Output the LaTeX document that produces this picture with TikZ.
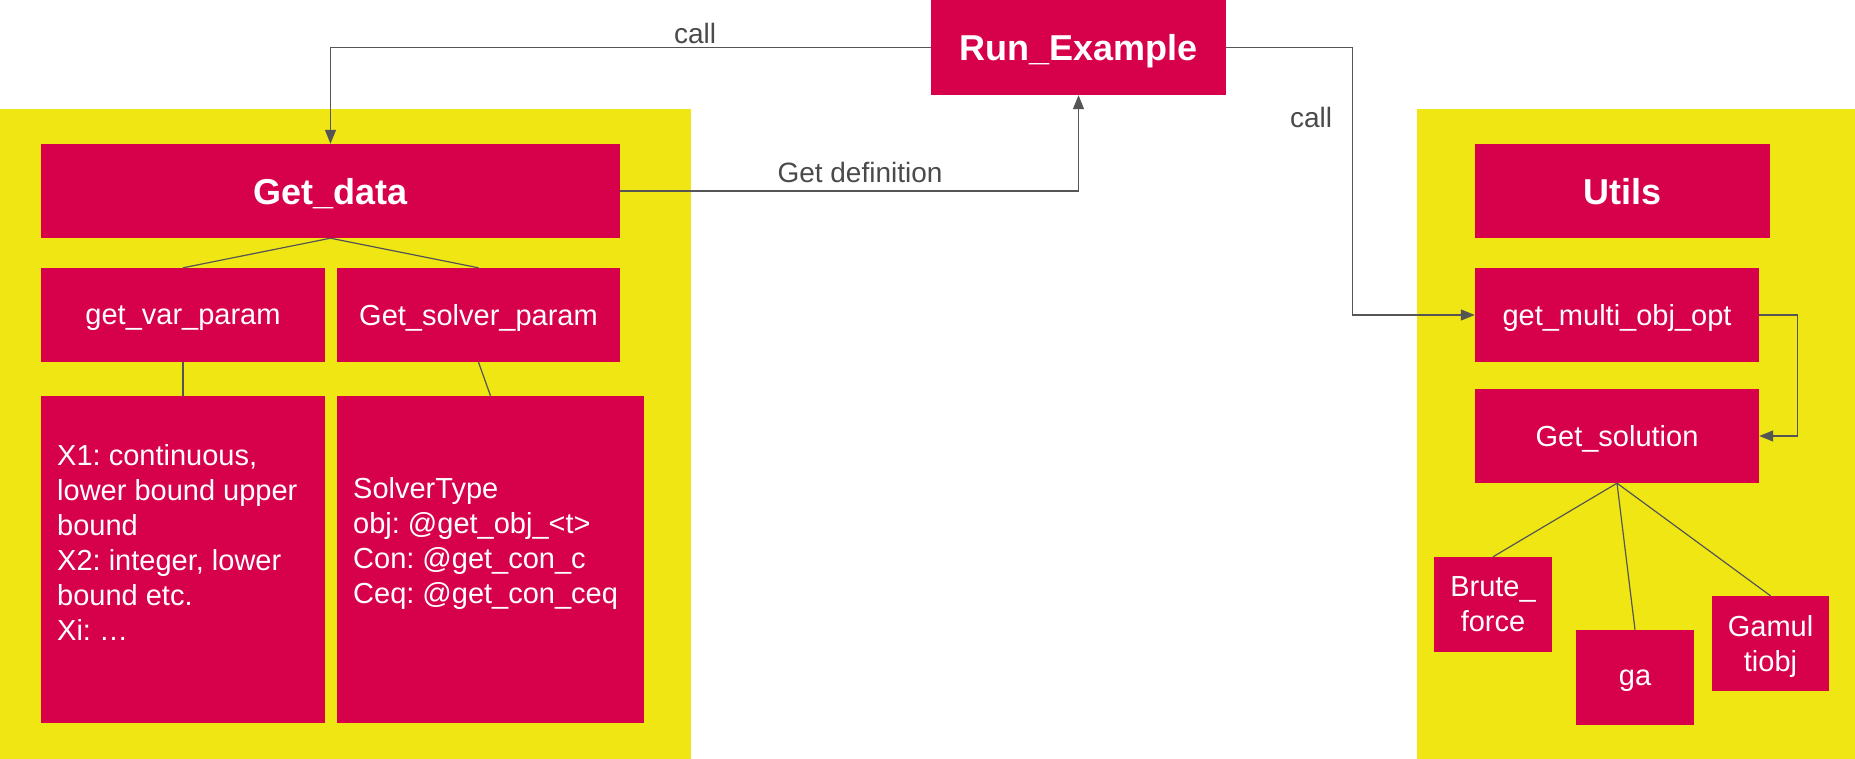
\documentclass[tikz,border=0pt]{standalone}
\usepackage{fontspec}
\setmainfont{Liberation Sans}
\usetikzlibrary{arrows.meta}
\definecolor{crim}{HTML}{D6004B}
\definecolor{yel}{HTML}{F0E614}
\definecolor{lin}{HTML}{555555}
\definecolor{lab}{HTML}{4A4A4A}
\frenchspacing
\begin{document}
\begin{tikzpicture}[x=1pt,y=-1pt,
  base/.style={fill=crim,draw=none,text=white,inner sep=0pt,
    font=\fontsize{29pt}{35pt}\selectfont},
  box/.style={base,align=center,text depth=0pt},
  textblock/.style={base,fill=none,anchor=west,align=left},
  titlebox/.style={box,font=\fontsize{36pt}{42pt}\selectfont\bfseries},
  conn/.style={draw=lin,line width=1.2pt},
  arr/.style={conn,-{Triangle[length=14pt,width=11pt]}},
  lbl/.style={text=lab,inner sep=0pt,font=\fontsize{28pt}{34pt}\selectfont}]
\useasboundingbox (0,0) rectangle (1855,759);
% panels
\fill[yel] (0,109) rectangle (691,759);
\fill[yel] (1417,109) rectangle (1855,759);
% nodes
\node[titlebox,minimum width=295pt,minimum height=95pt] (run) at (1078.5,47.5) {Run\_Example};
\node[titlebox,minimum width=579pt,minimum height=94pt] (getdata) at (330.5,191) {Get\_data};
\node[box,minimum width=284pt,minimum height=94pt] (getvar) at (183,315) {get\_var\_param};
\node[box,minimum width=283pt,minimum height=94pt] (getsolver) at (478.5,315) {Get\_solver\_param};
\node[box,minimum width=284pt,minimum height=327pt] (xbox) at (183,559.5) {};
\node[box,minimum width=307pt,minimum height=327pt] (sbox) at (490.5,559.5) {};
\node[textblock] (xtext) at (57,542) {X1: continuous,\\lower bound upper\\bound\\X2: integer, lower\\bound etc.\\Xi: \dots};
\node[textblock] (stext) at (353,543) {SolverType\\obj: @get\_obj\_<t>\\Con: @get\_con\_c\\Ceq: @get\_con\_ceq};
\node[titlebox,minimum width=295pt,minimum height=94pt] (utils) at (1622.5,191) {Utils};
\node[box,minimum width=284pt,minimum height=94pt] (getmulti) at (1617,315) {get\_multi\_obj\_opt};
\node[box,minimum width=284pt,minimum height=94pt] (getsol) at (1617,436) {Get\_solution};
\node[box,minimum width=118pt,minimum height=95pt] (brute) at (1493,604.5) {Brute\_\\force};
\node[box,minimum width=118pt,minimum height=95pt] (ga) at (1635,677.5) {ga};
\node[box,minimum width=117pt,minimum height=95pt] (gamulti) at (1770.5,643.5) {Gamul\\tiobj};
% connectors
\draw[arr] (run.west) -| (getdata.north);
\draw[arr] (getdata.east) -| (run.south);
\draw[arr] (run.east) -- ++(126,0) |- (getmulti.west);
\draw[arr] (getmulti.east) -- ++(38,0) |- (getsol.east);
\draw[conn] (getdata.south) -- (getvar.north);
\draw[conn] (getdata.south) -- (getsolver.north);
\draw[conn] (getvar.south) -- (xbox.north);
\draw[conn] (getsolver.south) -- (sbox.north);
\draw[conn] (getsol.south) -- (brute.north);
\draw[conn] (getsol.south) -- (ga.north);
\draw[conn] (getsol.south) -- (gamulti.north);
% labels
\node[lbl] (l1) at (695,33) {call};
\node[lbl] (l2) at (1311,117) {call};
\node[lbl] (l3) at (860,172) {Get definition};
\end{tikzpicture}
\end{document}
